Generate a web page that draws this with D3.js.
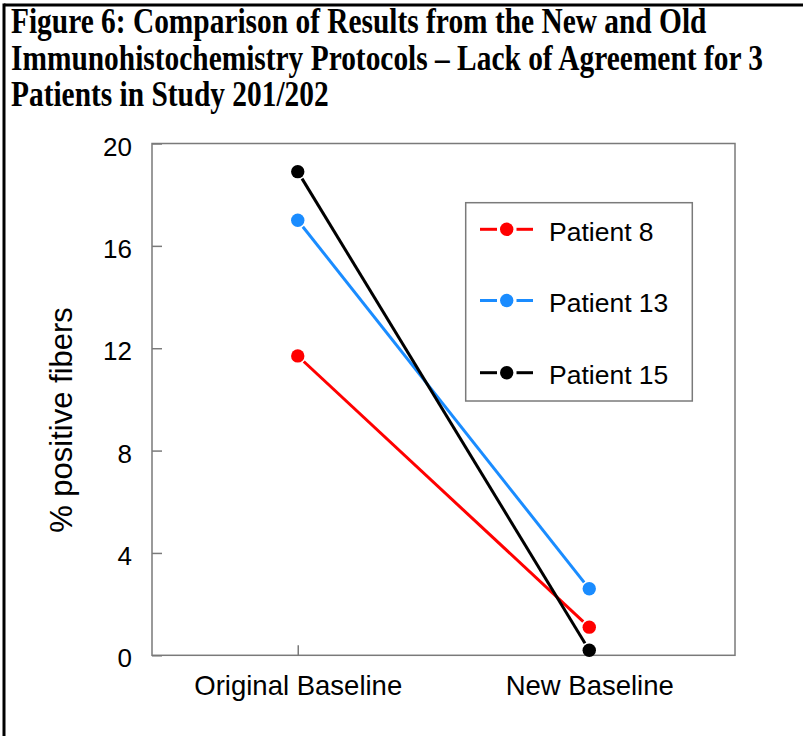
<!DOCTYPE html>
<html>
<head>
<meta charset="utf-8">
<script src="https://cdn.jsdelivr.net/npm/d3@7"></script>
<style>
  html, body { margin: 0; padding: 0; background: #fff; }
  svg { display: block; }
</style>
</head>
<body>
<svg id="chart" width="803" height="736"></svg>
<script>
// ---- Data ----
const titleLines = [
  "Figure 6: Comparison of Results from the New and Old",
  "Immunohistochemistry Protocols \u2013 Lack of Agreement for 3",
  "Patients in Study 201/202"
];
const categories = ["Original Baseline", "New Baseline"];
const seriesNames = ["Patient 8", "Patient 13", "Patient 15"];
const seriesColors = ["#ff0000", "#1a8cff", "#000000"];
const patient8 = [11.7, 1.1];
const patient13 = [17.0, 2.6];
const patient15 = [18.9, 0.2];
const yTicks = [0, 4, 8, 12, 16, 20];
const yLabel = "% positive fibers";

const seriesValues = [patient8, patient13, patient15];
const series = seriesNames.map((name, i) => ({
  name, color: seriesColors[i],
  points: categories.map((c, j) => ({ cat: c, value: seriesValues[i][j] }))
}));

// ---- Layout ----
const svg = d3.select("#chart");
const plot = { left: 152, top: 143.5, right: 735, bottom: 655.3 };
const frameColor = "#7a7a7a";
const r = 6.7;

// Outer figure frame (top + left)
svg.append("line").attr("x1", 4).attr("x2", 803).attr("y1", 5).attr("y2", 5)
  .attr("stroke", "#000").attr("stroke-width", 3);
svg.append("line").attr("x1", 4).attr("x2", 4).attr("y1", 3.5).attr("y2", 736)
  .attr("stroke", "#000").attr("stroke-width", 3);

// Title
const title = svg.append("g").attr("transform", "translate(11,0) scale(1,1.2)");
titleLines.forEach((t, i) => {
  title.append("text")
    .attr("x", 0).attr("y", (33 + i * 36.7) / 1.2)
    .attr("font-family", "'Liberation Serif', 'Times New Roman', serif")
    .attr("font-weight", "bold")
    .attr("font-size", "29.4px")
    .attr("fill", "#000")
    .text(t);
});

// Scales
const x = d3.scalePoint().domain(categories).range([plot.left, plot.right]).padding(0.5);
const y = d3.scaleLinear().domain([0, 20]).range([plot.bottom, plot.top]);

// Plot frame
svg.append("rect")
  .attr("x", plot.left).attr("y", plot.top)
  .attr("width", plot.right - plot.left).attr("height", plot.bottom - plot.top)
  .attr("fill", "none").attr("stroke", frameColor).attr("stroke-width", 1.5);

const fontSans = "'Liberation Sans', Arial, Helvetica, sans-serif";

// Y axis
const yAxis = svg.append("g")
  .attr("transform", `translate(${plot.left},0)`)
  .call(d3.axisLeft(y).tickValues(yTicks).tickSize(-10).tickSizeOuter(0).tickPadding(20));
yAxis.select(".domain").remove();
yAxis.selectAll(".tick line").attr("stroke", frameColor).attr("stroke-width", 1.5);
yAxis.selectAll(".tick text")
  .attr("dy", null).attr("y", 11.5)
  .attr("font-family", fontSans).attr("font-size", "26px").attr("fill", "#000");

// X axis
const xAxis = svg.append("g")
  .attr("transform", `translate(0,${plot.bottom})`)
  .call(d3.axisBottom(x).tickSize(-10).tickSizeOuter(0));
xAxis.select(".domain").remove();
xAxis.selectAll(".tick line").attr("stroke", frameColor).attr("stroke-width", 1.5);
xAxis.selectAll(".tick text")
  .attr("dy", null).attr("y", 40)
  .attr("font-family", fontSans).attr("font-size", "27.5px").attr("fill", "#000");

// Y label
svg.append("text")
  .attr("transform", `translate(72,420) rotate(-90)`)
  .attr("text-anchor", "middle")
  .attr("font-family", fontSans).attr("font-size", "31px").attr("fill", "#000")
  .text(yLabel);

// Series (lines with small gaps around points, like R type="b")
const gap = r + 1.5;
series.forEach(s => {
  const pts = s.points.map(p => [x(p.cat), y(p.value)]);
  for (let k = 0; k < pts.length - 1; k++) {
    const [x1, y1] = pts[k], [x2, y2] = pts[k + 1];
    const dx = x2 - x1, dy = y2 - y1, len = Math.hypot(dx, dy);
    const ux = dx / len, uy = dy / len;
    svg.append("line")
      .attr("x1", x1 + ux * gap).attr("y1", y1 + uy * gap)
      .attr("x2", x2 - ux * gap).attr("y2", y2 - uy * gap)
      .attr("stroke", s.color).attr("stroke-width", 3);
  }
  svg.selectAll(null).data(s.points).enter().append("circle")
    .attr("cx", d => x(d.cat)).attr("cy", d => y(d.value))
    .attr("r", r).attr("fill", s.color);
});

// Legend
const legend = svg.append("g");
legend.append("rect")
  .attr("x", 465.7).attr("y", 202.7).attr("width", 226.6).attr("height", 198.3)
  .attr("fill", "#fff").attr("stroke", frameColor).attr("stroke-width", 1.5);
const legendRows = [229.3, 300.5, 372.7];
series.forEach((s, i) => {
  const g = legend.append("g").attr("transform", `translate(0,${legendRows[i]})`);
  g.append("line").attr("x1", 480).attr("x2", 497).attr("y1", 0).attr("y2", 0)
    .attr("stroke", s.color).attr("stroke-width", 3);
  g.append("line").attr("x1", 516.5).attr("x2", 533).attr("y1", 0).attr("y2", 0)
    .attr("stroke", s.color).attr("stroke-width", 3);
  g.append("circle").attr("cx", 506.7).attr("cy", 0).attr("r", r).attr("fill", s.color);
  g.append("text").attr("x", 549).attr("y", 11.4)
    .attr("font-family", fontSans).attr("font-size", "26.5px").attr("fill", "#000")
    .text(s.name);
});
</script>
</body>
</html>
